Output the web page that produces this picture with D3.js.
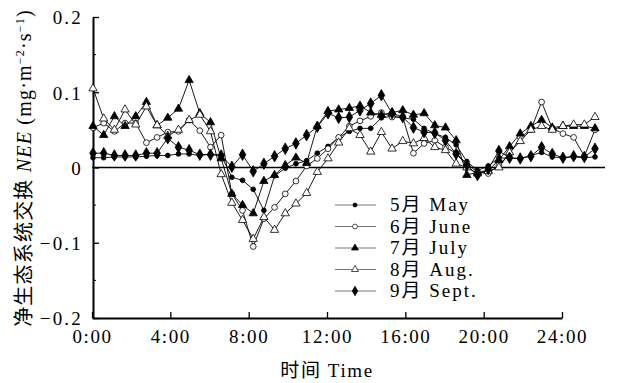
<!DOCTYPE html>
<html><head><meta charset="utf-8">
<script src="https://cdn.jsdelivr.net/npm/d3@7"></script>
<style>body{margin:0;background:#fff}</style>
</head><body>
<svg id="c" width="627" height="383"></svg>
<script>
// half-hour sampling times (hours)
const hours = [0,0.5,1,1.5,2,2.5,3,3.5,4,4.5,5,5.5,6,6.5,7,7.5,8,8.5,9,9.5,10,10.5,11,11.5,
               12,12.5,13,13.5,14,14.5,15,15.5,16,16.5,17,17.5,18,18.5,19,19.5,20,20.5,21,21.5,22,22.5,23,23.5];
const may = [0.013,0.013,0.014,0.014,0.014,0.015,0.016,0.016,0.018,0.018,0.016,0.018,
             0.016,-0.013,-0.017,-0.029,-0.057,-0.011,-0.001,0.005,0.009,0.019,0.028,0.040,
             0.048,0.052,0.052,0.066,0.068,0.066,0.064,0.052,0.045,0.040,0.030,0.008,
             -0.004,0.002,0.013,0.012,0.012,0.016,0.020,0.014,0.013,0.014,0.013,0.014];
const june = [0.053,0.059,0.048,0.059,0.059,0.033,0.040,0.047,0.048,0.063,0.049,0.027,
              0.043,-0.035,-0.057,-0.105,-0.068,-0.053,-0.035,-0.018,0.002,0.012,0.025,0.040,
              0.055,0.062,0.068,0.073,0.067,0.067,0.019,0.032,0.036,0.027,0.019,0.005,
              -0.006,-0.008,0.003,0.018,0.040,0.050,0.087,0.052,0.045,0.040,0.015,0.050];
const july = [0.055,0.043,0.068,0.055,0.068,0.087,0.056,0.066,0.078,0.116,0.072,0.060,
              0.012,-0.035,-0.050,-0.061,-0.018,-0.010,0.003,0.013,0.006,0.055,0.075,0.077,
              0.079,0.082,0.073,0.070,0.073,0.076,0.070,0.072,0.056,0.053,0.036,-0.010,
              -0.006,-0.004,0.010,0.028,0.045,0.055,0.063,0.053,0.055,0.055,0.055,0.052];
const aug = [0.105,0.065,0.050,0.077,0.057,0.081,0.056,0.042,0.050,0.063,0.070,0.048,
             -0.009,-0.047,-0.070,-0.095,-0.066,-0.083,-0.061,-0.048,-0.034,-0.006,0.012,0.033,
             0.052,0.043,0.021,0.047,0.025,0.035,0.032,0.039,0.027,0.023,0.005,0.000,
             -0.008,-0.005,0.000,0.020,0.035,0.050,0.055,0.050,0.055,0.057,0.057,0.067];
const sept = [0.019,0.019,0.016,0.016,0.016,0.019,0.019,0.039,0.027,0.023,0.017,0.017,
              0.016,0.001,0.017,-0.005,0.005,0.015,0.025,0.032,0.043,0.054,0.072,0.066,
              0.067,0.076,0.085,0.096,0.072,0.067,0.053,0.047,0.046,0.036,0.018,0.003,
              -0.010,-0.002,0.022,0.013,0.012,0.015,0.027,0.018,0.013,0.015,0.014,0.025];
const seriesNames = ["5月 May","6月 June","7月 July","8月 Aug.","9月 Sept."];
const xTicks = [0,4,8,12,16,20,24];
const xTickLabels = ["0:00","4:00","8:00","12:00","16:00","20:00","24:00"];
const yTicks = [-0.2,-0.1,0,0.1,0.2];
const yMinor = [-0.15,-0.05,0.05,0.15];

const series = [
  {name: seriesNames[0], values: may,  sym: d3.symbolCircle,   size: 18, fill: "#000"},
  {name: seriesNames[1], values: june, sym: d3.symbolCircle,   size: 26, fill: "#fff"},
  {name: seriesNames[2], values: july, sym: d3.symbolTriangle, size: 30, fill: "#000"},
  {name: seriesNames[3], values: aug,  sym: d3.symbolTriangle, size: 30, fill: "#fff"},
  {name: seriesNames[4], values: sept, sym: d3.symbolDiamond,  size: 38, fill: "#000"}
];

const svg = d3.select("#c");
const txtFont = "'Liberation Serif','Noto Sans CJK SC',serif";

const x = d3.scaleLinear().domain([0,24]).range([92,562]);
// in the reference the sampled points run a little past the 24:00 tick
const xData = d3.scaleLinear().domain([0,23.5]).range([93,595]);
const y = d3.scaleLinear().domain([-0.2,0.2]).range([318,17]);

// zero line
svg.append("line").attr("x1",x(0)).attr("x2",605).attr("y1",y(0)).attr("y2",y(0))
  .attr("stroke","#000").attr("stroke-width",1.4);

// y axis
const yAxis = d3.axisLeft(y).tickValues(yTicks).tickSizeInner(-6).tickSizeOuter(0).tickPadding(10)
  .tickFormat(d => d === 0 ? "0" : d3.format(".1f")(d));
const gy = svg.append("g").attr("transform",`translate(${x(0)+1},0)`).call(yAxis);
gy.select(".domain").attr("stroke-width",2);
gy.selectAll(".tick line").attr("stroke-width",1.3);
gy.selectAll("text").attr("font-family",txtFont).attr("font-size",19).attr("letter-spacing",2.2)
  .attr("fill","#000").attr("dy","0.36em");
gy.selectAll(".minor").data(yMinor).enter().append("line").attr("class","minor")
  .attr("x1",0).attr("x2",3).attr("y1",d=>y(d)).attr("y2",d=>y(d)).attr("stroke","#000");

// x axis
const xAxis = d3.axisBottom(x).tickValues(xTicks).tickSizeInner(-6).tickSizeOuter(0).tickPadding(12)
  .tickFormat((d,i) => xTickLabels[i]);
const gx = svg.append("g").attr("transform",`translate(0,${y(-0.2)})`).call(xAxis);
gx.select(".domain").attr("stroke-width",2);
gx.selectAll(".tick line").attr("stroke-width",1.3);
gx.selectAll("text").attr("font-family",txtFont).attr("font-size",19).attr("letter-spacing",1.6)
  .attr("fill","#000");

// lines + markers
const line = d3.line().x((d,i)=>xData(hours[i])).y(d=>y(d));
series.forEach(s => {
  svg.append("path").datum(s.values).attr("d",line).attr("fill","none")
    .attr("stroke","#000").attr("stroke-width",0.9);
});
series.forEach(s => {
  const sym = d3.symbol().type(s.sym).size(s.size);
  svg.selectAll(null).data(s.values).enter().append("path")
    .attr("d",sym).attr("transform",(d,i)=>`translate(${xData(hours[i])},${y(d)})`)
    .attr("fill",s.fill).attr("stroke","#000").attr("stroke-width",0.8);
});

// legend
const lg = svg.append("g");
series.forEach((s,i) => {
  const yy = 205 + i*21.5;
  lg.append("line").attr("x1",335).attr("x2",376).attr("y1",yy).attr("y2",yy)
    .attr("stroke","#777").attr("stroke-width",1);
  lg.append("path").attr("d",d3.symbol().type(s.sym).size(s.size*0.7))
    .attr("transform",`translate(355,${yy})`).attr("fill",s.fill).attr("stroke","#000").attr("stroke-width",0.7);
  lg.append("text").attr("x",390).attr("y",yy+6).attr("font-family",txtFont).attr("font-size",19)
    .attr("letter-spacing",2).text(s.name);
});

// x title
svg.append("text").attr("x",327).attr("y",377).attr("text-anchor","middle")
  .attr("font-family",txtFont).attr("font-size",19).attr("letter-spacing",1.6).text("时间 Time");

// y title
const yt = svg.append("text").attr("transform","translate(31,168) rotate(-90)")
  .attr("text-anchor","middle").attr("font-family",txtFont).attr("font-size",20).attr("letter-spacing",1.2);
yt.append("tspan").text("净生态系统交换 ");
yt.append("tspan").attr("font-style","italic").text("NEE");
yt.append("tspan").text(" (mg·m");
yt.append("tspan").attr("baseline-shift","super").attr("font-size",12).text("−2");
yt.append("tspan").text("·s");
yt.append("tspan").attr("baseline-shift","super").attr("font-size",12).text("−1");
yt.append("tspan").text(")");
</script>
</body></html>
